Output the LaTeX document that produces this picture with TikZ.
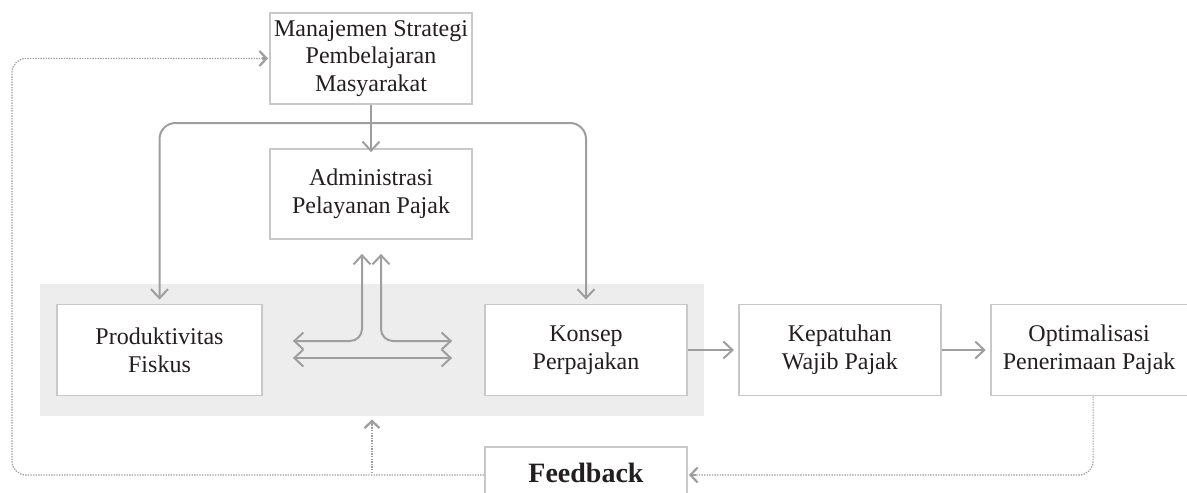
\documentclass[tikz,border=0pt]{standalone}
\usepackage{fontspec}
\setmainfont{Liberation Serif}
\usepackage{xcolor}
\usetikzlibrary{arrows.meta,positioning}
\definecolor{boxline}{RGB}{200,200,200}
\definecolor{arrline}{RGB}{158,158,158}
\definecolor{coregray}{RGB}{236,237,236}
\definecolor{ink}{RGB}{35,31,32}

\begin{document}
\begin{tikzpicture}[x=0.5pt,y=-0.5pt,>={Straight Barb[length=4.5pt,width=8.5pt]},
    box/.style={draw=boxline,line width=0.9pt,fill=white,text=ink,align=center,
      minimum width=101pt,minimum height=45.5pt,inner sep=2pt,
      font=\fontsize{12}{13.8}\selectfont},
    arr/.style={draw=arrline,line width=1pt},
    dots/.style={draw=arrline,line width=0.6pt,dash pattern=on 0.7pt off 0.6pt},
    dottip/.style={arr,line width=1.1pt,-{Straight Barb[length=3.6pt,width=7.5pt]},shorten <=1.2pt}]
  \useasboundingbox (0,0) rectangle (1187,492);
  \node[fill=coregray,minimum width=332pt,minimum height=66pt,inner sep=0pt] (core) at (372,350) {};
  \node[box] (strategi) at (371,58.5) {Manajemen Strategi\\Pembelajaran\\Masyarakat};
  \node[box,minimum height=45pt] (admin) at (371,194) {Administrasi\\Pelayanan Pajak};
  \node[box,minimum width=102.5pt] (fiskus) at (159.5,350) {Produktivitas\\Fiskus};
  \node[box] (konsep) at (586,350) {Konsep\\Perpajakan};
  \node[box,right=25pt of konsep] (patuh) {Kepatuhan\\Wajib Pajak};
  \node[box,minimum width=98.5pt,right=24pt of patuh] (optimal) {Optimalisasi\\Penerimaan Pajak};
  \node[box,minimum height=26pt,font=\fontsize{14}{16}\bfseries] (feedback) at (586,473) {Feedback};
  \coordinate (split) at (371,123);
  \coordinate (edge) at (12,300);
  \draw[arr,->] (strategi) -- ([yshift=-2pt]admin.north);
  \draw[arr,->,rounded corners=8pt] (split) -| ([yshift=2pt]fiskus.north);
  \draw[arr,->,rounded corners=8pt] (split) -| ([yshift=2pt]konsep.north);
  \draw[arr,<->,rounded corners=6pt] ([xshift=15pt,yshift=4.5pt]fiskus.east) -| ([xshift=-4.5pt,yshift=-7pt]admin.south);
  \draw[arr,<->,rounded corners=6pt] ([xshift=-16pt,yshift=4.5pt]konsep.west) -| ([xshift=5pt,yshift=-7pt]admin.south);
  \draw[arr,<->] ([xshift=15pt,yshift=-4pt]fiskus.east) -- ([xshift=-16pt,yshift=-4pt]konsep.west);
  \draw[arr,->] (konsep) -- ([xshift=-2pt]patuh.west);
  \draw[arr,->] (patuh) -- ([xshift=-2pt]optimal.west);
  \draw[dots,rounded corners=7pt] ([xshift=2pt]optimal.south) |- ([xshift=3pt,yshift=-1pt]feedback.east);
  \draw[dots,rounded corners=7pt] ([yshift=-1pt]feedback.west) -| (edge) |- ([xshift=-3pt]strategi.west);
  \draw[dots] (core.south |- feedback.west) -- ([yshift=-4pt]core.south);
  \draw[dottip] ([xshift=5pt,yshift=-1pt]feedback.east) -- ([xshift=0.5pt,yshift=-1pt]feedback.east);
  \draw[dottip] ([xshift=-5pt]strategi.west) -- ([xshift=-0.5pt]strategi.west);
  \draw[dottip] ([yshift=-6pt]core.south) -- ([yshift=-1.5pt]core.south);
\end{tikzpicture}
\end{document}
